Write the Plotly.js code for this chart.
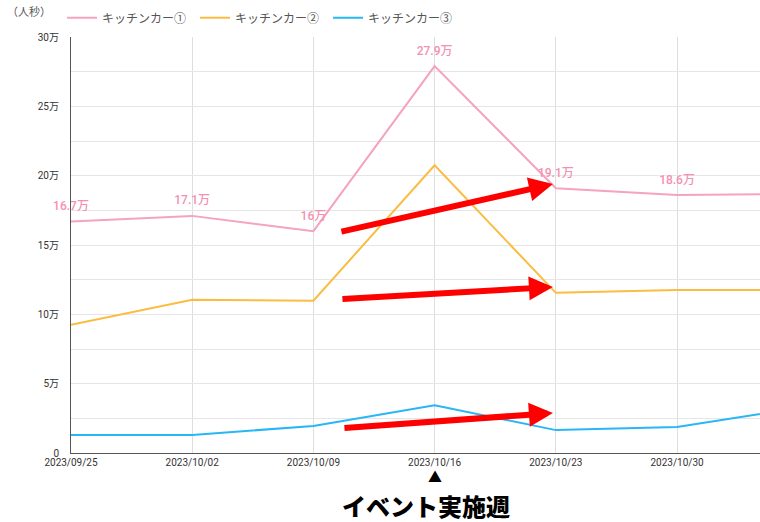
<!DOCTYPE html>
<html>
<head>
<meta charset="utf-8">
<script src="https://cdn.plot.ly/plotly-3.0.1.min.js"></script>
<style>html,body{margin:0;padding:0;background:#fff;}#chart{width:760px;height:522px;}</style>
</head>
<body>
<div id="chart"></div>
<script>
const weeks = ['2023-09-25','2023-10-02','2023-10-09','2023-10-16','2023-10-23','2023-10-30','2023-11-06'];
const seriesNames = ['キッチンカー①','キッチンカー②','キッチンカー③'];
const car1 = [16.7, 17.1, 16.0, 27.9, 19.1, 18.6, 18.7];
const car2 = [9.25, 11.05, 10.98, 20.75, 11.55, 11.75, 11.75];
const car3 = [1.3, 1.3, 1.95, 3.45, 1.65, 1.87, 3.25];
const car1Labels = ['16.7万','17.1万','16万','27.9万','19.1万','18.6万',''];
const yTickVals = [0,2.5,5,7.5,10,12.5,15,17.5,20,22.5,25,27.5,30];
const yTickText = ['0','','5万','','10万','','15万','','20万','','25万','','30万'];
const xTickVals = ['2023-09-25','2023-10-02','2023-10-09','2023-10-16','2023-10-23','2023-10-30'];
const xTickText = ['2023/09/25','2023/10/02','2023/10/09','2023/10/16','2023/10/23','2023/10/30'];
const colors = ['#f5a3bf','#fbbc42','#29b6f6'];

const FONT = 'Roboto, "Noto Sans CJK JP", sans-serif';

const traces = [
  {x: weeks, y: car1, name: seriesNames[0], mode: 'lines+markers+text', text: car1Labels,
   textposition: 'top center', cliponaxis: false,
   marker: {size: 12, color: 'rgba(0,0,0,0)'},
   textfont: {color: '#f490b2', size: 12, family: FONT, weight: 500},
   line: {color: colors[0], width: 2}, hoverinfo: 'skip'},
  {x: weeks, y: car2, name: seriesNames[1], mode: 'lines',
   line: {color: colors[1], width: 2}, hoverinfo: 'skip'},
  {x: weeks, y: car3, name: seriesNames[2], mode: 'lines',
   line: {color: colors[2], width: 2}, hoverinfo: 'skip'}
];

function arrow(x, y, ax, ay) {
  return {x: x, y: y, xref: 'x', yref: 'y', ax: ax, ay: ay, axref: 'pixel', ayref: 'pixel',
    text: '', showarrow: true, arrowhead: 2, arrowsize: 0.8, arrowwidth: 6,
    arrowcolor: '#ff0000', standoff: 0, startstandoff: 0};
}

const layout = {
  width: 760, height: 522,
  margin: {l: 71, r: 0, t: 37, b: 69, pad: 0},
  paper_bgcolor: '#ffffff', plot_bgcolor: '#ffffff',
  font: {family: FONT, color: '#444', size: 11},
  showlegend: true,
  legend: {orientation: 'h', x: -0.013, xanchor: 'left', y: 1.046, yanchor: 'middle',
    font: {size: 12, color: '#555', family: FONT}, entrywidth: 88, entrywidthmode: 'pixels',
    itemwidth: 30, bgcolor: 'rgba(0,0,0,0)'},
  xaxis: {type: 'date', range: ['2023-09-25', '2023-11-03 19:00'],
    tickvals: xTickVals, ticktext: xTickText, tickfont: {size: 10, color: '#333'},
    showgrid: true, gridcolor: '#dedede', gridwidth: 1,
    showline: true, linecolor: '#555', linewidth: 1, zeroline: false, ticks: '', fixedrange: true},
  yaxis: {range: [0, 30], tickvals: yTickVals, ticktext: yTickText,
    tickfont: {size: 10, color: '#333'}, ticklabelstandoff: 9,
    showgrid: true, gridcolor: '#e6e6e6', gridwidth: 1,
    showline: true, linecolor: '#555', linewidth: 1, zeroline: false, ticks: '', fixedrange: true},
  annotations: [
    {xref: 'paper', yref: 'paper', x: -0.061, y: 1.06, text: '（人秒）', showarrow: false,
     font: {size: 11, color: '#555'}, xanchor: 'center', yanchor: 'middle'},
    {xref: 'x', yref: 'paper', x: '2023-10-16', y: -0.058, text: '▲', showarrow: false, borderpad: 0,
     font: {size: 14, color: '#000'}, xanchor: 'center', yanchor: 'middle'},
    {xref: 'x', yref: 'paper', x: '2023-10-16', y: -0.125, xshift: -9, text: 'イベント実施週', showarrow: false, borderpad: 0,
     font: {size: 24, color: '#000', family: '"Noto Sans CJK JP", sans-serif', weight: 900}, xanchor: 'center', yanchor: 'middle'},
    arrow('2023-10-22 20:00', 19.4, -213, 48),
    arrow('2023-10-22 20:00', 11.97, -212, 12),
    arrow('2023-10-22 20:00', 2.88, -210, 15)
  ]
};

Plotly.newPlot('chart', traces, layout, {displayModeBar: false, staticPlot: true});
</script>
</body>
</html>
